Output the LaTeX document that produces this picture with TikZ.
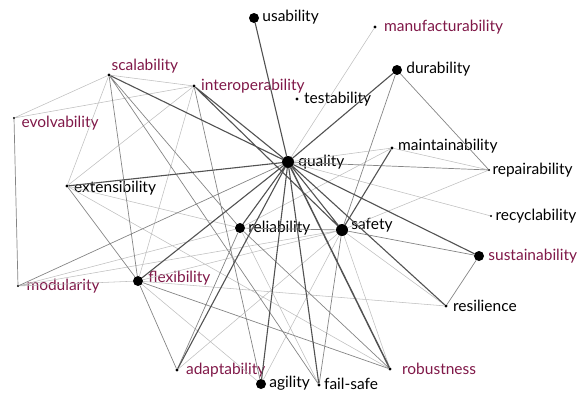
\documentclass[tikz,border=0pt]{standalone}
\usepackage{fontspec}
\setmainfont{Lato}
\usetikzlibrary{positioning}
\definecolor{plum}{RGB}{128,24,72}
\begin{document}
\begin{tikzpicture}[x=1pt,y=-1pt,line join=round,line cap=round,font=\fontsize{15.5}{17}\selectfont,
  big/.style={circle,fill=black,inner sep=0pt,minimum size=10pt},
  small/.style={circle,fill=black,inner sep=0pt,minimum size=3.4pt},
  tiny/.style={circle,fill=black,inner sep=0pt,minimum size=2.2pt},
  dk/.style={draw=black!68,line width=1.1pt},
  md/.style={draw=black!48,line width=.7pt},
  lt/.style={draw=black!25,line width=.55pt},
  nm/.style={text=black,inner sep=0pt},
  pl/.style={text=plum,inner sep=0pt}]
\useasboundingbox (0,0) rectangle (577,394);
% dots
\node[big] (usability) at (254,18) {};
\node[small] (manufacturability) at (375,27) {};
\node[big] (durability) at (397,70) {};
\node[small] (testability) at (297,99) {};
\node[small] (scalability) at (109,75) {};
\node[small] (interoperability) at (194,86) {};
\node[tiny] (evolvability) at (14,118) {};
\node[big,minimum size=12pt] (quality) at (288,162) {};
\node[small] (maintainability) at (392,148) {};
\node[tiny] (repairability) at (489,170) {};
\node[small] (extensibility) at (67,186) {};
\node[tiny] (recyclability) at (491,216) {};
\node[big] (reliability) at (240,228) {};
\node[big,minimum size=12pt] (safety) at (342,230) {};
\node[big] (sustainability) at (479,256) {};
\node[tiny] (modularity) at (18,286) {};
\node[big] (flexibility) at (138,281) {};
\node[small] (resilience) at (446,306) {};
\node[small] (adaptability) at (177,370) {};
\node[small] (robustness) at (390,369) {};
\node[big] (agility) at (261,384) {};
\node[small] (failsafe) at (319,385) {};
% labels
\node[nm,right=3pt of usability,yshift=1pt] (usability-l) {usability};
\node[pl,right=7pt of manufacturability] (manufacturability-l) {manufacturability};
\node[nm,right=4pt of durability,yshift=1pt] (durability-l) {durability};
\node[nm,right=5pt of testability] (testability-l) {testability};
\node[pl,above right=0pt and 1pt of scalability] (scalability-l) {scalability};
\node[pl,right=5pt of interoperability] (interoperability-l) {interoperability};
\node[pl,right=6pt of evolvability,yshift=-5pt] (evolvability-l) {evolvability};
\node[nm,right=4pt of quality] (quality-l) {quality};
\node[nm,right=4pt of maintainability,yshift=2pt] (maintainability-l) {maintainability};
\node[nm,right=2pt of repairability] (repairability-l) {repairability};
\node[nm,right=3pt of recyclability] (recyclability-l) {recyclability};
\node[nm,right=5pt of extensibility,yshift=-2pt] (extensibility-l) {extensibility};
\node[nm,right=3pt of reliability] (reliability-l) {reliability};
\node[nm,right=3pt of safety,yshift=5pt] (safety-l) {safety};
\node[pl,right=4pt of sustainability] (sustainability-l) {sustainability};
\node[pl,right=7pt of modularity] (modularity-l) {modularity};
\node[pl,right=5pt of flexibility,yshift=3pt] (flexibility-l) {flexibility};
\node[nm,right=5pt of resilience] (resilience-l) {resilience};
\node[pl,right=7pt of adaptability] (adaptability-l) {adaptability};
\node[pl,right=10pt of robustness] (robustness-l) {robustness};
\node[nm,right=3pt of agility,yshift=1pt] (agility-l) {agility};
\node[nm,right=3pt of failsafe,yshift=1pt] (failsafe-l) {fail-safe};
% light links
\draw[lt] (quality)--(maintainability) (quality)--(recyclability) (quality)--(manufacturability)
  (maintainability)--(repairability) (maintainability)--(reliability) (repairability)--(safety)
  (safety)--(resilience) (safety)--(robustness) (safety)--(agility) (safety)--(flexibility)
  (safety)--(modularity) (reliability)--(extensibility) (reliability)--(modularity)
  (flexibility)--(agility) (flexibility)--(modularity) (flexibility)--(interoperability)
  (flexibility)--(resilience) (evolvability)--(scalability) (evolvability)--(interoperability)
  (scalability)--(interoperability) (scalability)--(extensibility) (interoperability)--(extensibility)
  (extensibility)--(robustness) (reliability)--(failsafe) (safety)--(adaptability);
% medium links
\draw[md] (quality)--(repairability) (quality)--(modularity) (durability)--(repairability)
  (durability)--(safety) (sustainability)--(safety) (sustainability)--(resilience)
  (safety)--(reliability) (safety)--(failsafe) (reliability)--(scalability)
  (reliability)--(robustness) (reliability)--(adaptability) (flexibility)--(adaptability)
  (flexibility)--(scalability) (flexibility)--(extensibility) (evolvability)--(modularity)
  (scalability)--(failsafe) (interoperability)--(agility) (flexibility)--(robustness);
% dark links
\draw[dk] (quality)--(usability) (quality)--(durability) (quality)--(scalability)
  (quality)--(interoperability) (quality)--(extensibility) (quality)--(reliability)
  (quality)--(safety) (quality)--(flexibility) (quality)--(adaptability) (quality)--(agility)
  (quality)--(failsafe) (quality)--(resilience) (quality)--(sustainability)
  (interoperability)--(safety) (maintainability)--(safety);
\draw[dk,line width=1.5pt] (quality)--(robustness);
\end{tikzpicture}
\end{document}
